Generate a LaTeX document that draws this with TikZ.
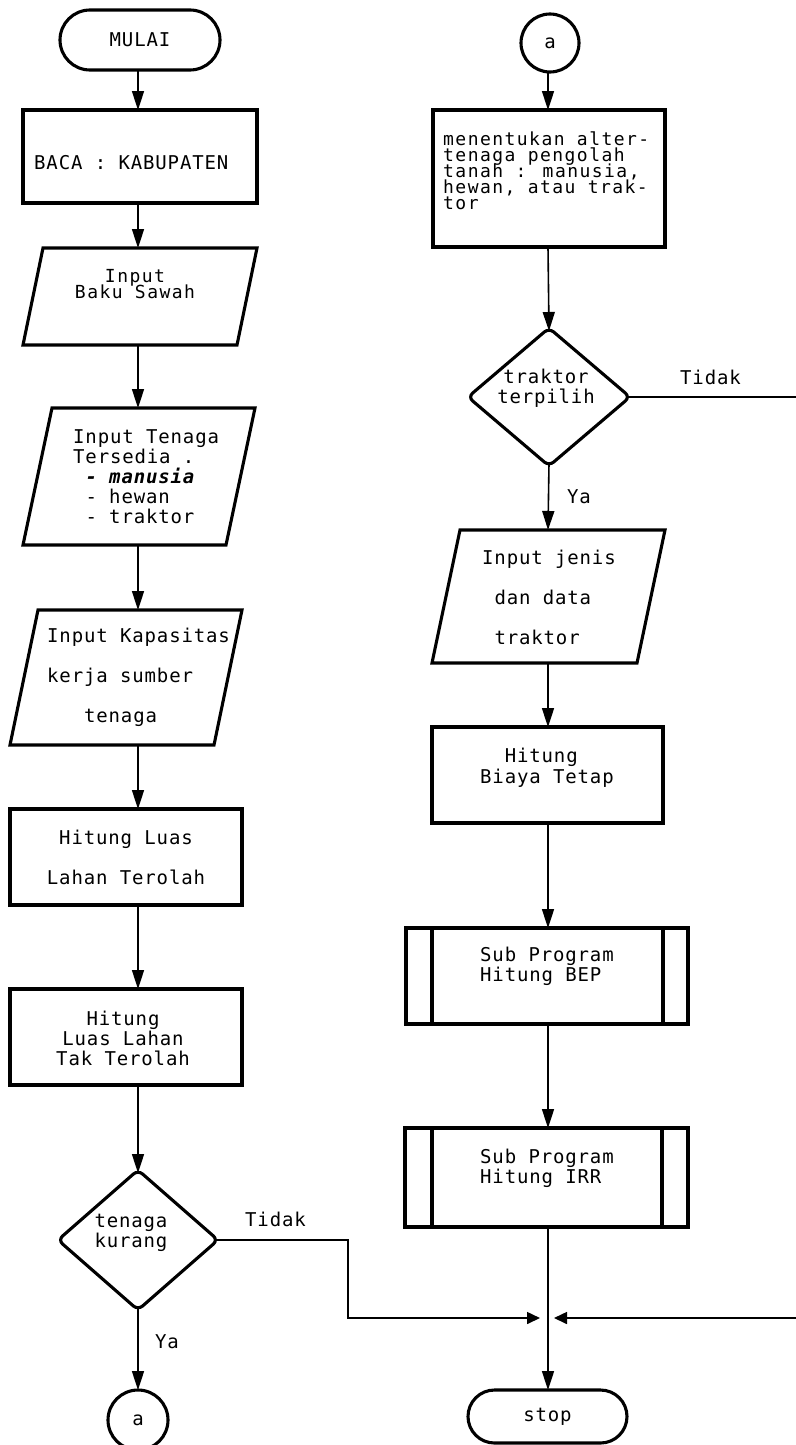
\documentclass[tikz,border=0pt]{standalone}
\usepackage{fontspec}
\newfontfamily\plotfont[LetterSpace=4.5]{DejaVu Sans Mono}
\newfontfamily\plotfontsmall[LetterSpace=8.1]{DejaVu Sans Mono}
\usetikzlibrary{arrows.meta,shapes.geometric}
\lineskiplimit=-100pt
\newcommand\plotsize[1]{\plotfont\fontsize{19pt}{#1pt}\selectfont}
\newcommand\plotsmall[1]{\plotfontsmall\fontsize{18pt}{#1pt}\selectfont}
\tikzset{
  outline/.style={draw, line width=3.1pt, inner sep=0pt, outer sep=0pt},
  ghost/.style={rectangle, inner sep=0pt, outer sep=0pt},
  txt/.style={inner sep=0pt, font=\plotsize{#1}},
  txt/.default=20,
  smalltxt/.style={inner sep=0pt, font=\plotsmall{#1}},
  flow/.style={line width=1.6pt},
  arr/.style={flow, -{Triangle[length=19pt,width=12pt]}},
  harr/.style={flow, -{Triangle[length=13pt,width=12pt]}},
}

\begin{document}
\begin{tikzpicture}[x=1pt,y=-1pt]
\useasboundingbox (0,0) rectangle (795,1445);

% column axes
\coordinate (colL) at (138,0);
\coordinate (colR) at (548,0);

% ---------------- left column ----------------
\node[outline, txt, rectangle, rounded corners=30pt, minimum width=160pt, minimum height=60pt] (mulai) at (140,40) {MULAI};

\node[outline, rectangle, minimum width=234pt, minimum height=93pt] (baca) at (140,156.5) {};
\node[txt, anchor=west] (tbaca) at (34,163) {BACA : KABUPATEN};

\node[ghost, minimum width=234pt, minimum height=97pt] (baku) at (140,296.5) {};
\draw[outline] ([xshift=20pt]baku.north west) -- (baku.north east) -- ([xshift=-20pt]baku.south east) -- (baku.south west) -- cycle;
\node[smalltxt=16, align=center] (tbaku) at (135,284) {Input\\Baku Sawah};

\node[ghost, minimum width=232pt, minimum height=137pt] (tenaga) at (139,476.5) {};
\draw[outline] ([xshift=29pt]tenaga.north west) -- (tenaga.north east) -- ([xshift=-29pt]tenaga.south east) -- (tenaga.south west) -- cycle;
\node[txt, align=left, anchor=west] (ttenaga) at (73,477) {Input Tenaga\\Tersedia .\\\hspace*{12.3pt}{\bfseries\itshape - manusia}\\\hspace*{12.3pt}- hewan\\\hspace*{12.3pt}- traktor};

\node[ghost, minimum width=232pt, minimum height=135pt] (kap) at (126,677.5) {};
\draw[outline] ([xshift=28pt]kap.north west) -- (kap.north east) -- ([xshift=-28pt]kap.south east) -- (kap.south west) -- cycle;
\node[txt=40, align=left, anchor=west] (tkap) at (47,677) {Input Kapasitas\\kerja sumber\\\hspace*{36.9pt}tenaga};

\node[outline, rectangle, minimum width=232pt, minimum height=96pt] (luas1) at (126,857) {};
\node[txt=40, align=center] (tluas1) at (126,857) {Hitung Luas\\Lahan Terolah};

\node[outline, rectangle, minimum width=232pt, minimum height=96pt] (luas2) at (126,1037) {};
\node[txt, align=center] (tluas2) at (123,1038) {Hitung\\Luas Lahan\\Tak Terolah};

\node[outline, diamond, rounded corners=6pt, minimum width=160pt, minimum height=140pt] (dia1) at (138,1240) {};
\node[txt=20, align=center] (tdia1) at (131,1233) {tenaga\\kurang};
\node[txt, anchor=west] (tidakL) at (245,1219) {Tidak};
\node[txt, anchor=west] (yaL) at (155,1342) {Ya};

\node[outline, txt, circle, minimum size=60pt] (aL) at (138,1420) {a};

% ---------------- right column ----------------
\node[outline, txt, circle, minimum size=58pt] (aR) at (550,43) {a};

\node[outline, rectangle, minimum width=232pt, minimum height=137pt] (alt) at (549,178.5) {};
\node[smalltxt=16, align=left, anchor=west] (talt) at (443,171) {menentukan alter-\\tenaga pengolah\\tanah : manusia,\\hewan, atau trak-\\tor};

\node[outline, diamond, rounded corners=6pt, minimum width=162pt, minimum height=138pt] (dia2) at (549,397) {};
\node[txt, align=center] (tdia2) at (546,388) {traktor\\terpilih};
\node[txt, anchor=west] (tidakR) at (680,377) {Tidak};
\node[txt, anchor=west] (yaR) at (567,497) {Ya};

\node[ghost, minimum width=233pt, minimum height=133pt] (jenis) at (548.5,596.5) {};
\draw[outline] ([xshift=28pt]jenis.north west) -- (jenis.north east) -- ([xshift=-28pt]jenis.south east) -- (jenis.south west) -- cycle;
\node[txt=40, align=left, anchor=west] (tjenis) at (482,597) {Input jenis\\\hspace*{12.3pt}dan data\\\hspace*{12.3pt}traktor};

\node[outline, rectangle, minimum width=231pt, minimum height=96pt] (biaya) at (547.5,775) {};
\node[txt=21, align=left, anchor=west] (tbiaya) at (480,767.5) {\hspace*{24.6pt}Hitung\\Biaya Tetap};

\node[outline, rectangle, minimum width=282pt, minimum height=96pt] (bep) at (547,976) {};
\draw[outline] ([xshift=26pt]bep.north west) -- ([xshift=26pt]bep.south west);
\draw[outline] ([xshift=-25pt]bep.north east) -- ([xshift=-25pt]bep.south east);
\node[txt, align=left, anchor=west] (tbep) at (480,966) {Sub Program\\Hitung BEP};

\node[outline, rectangle, minimum width=283pt, minimum height=99pt] (irr) at (546.5,1177.5) {};
\draw[outline] ([xshift=27pt]irr.north west) -- ([xshift=27pt]irr.south west);
\draw[outline] ([xshift=-26pt]irr.north east) -- ([xshift=-26pt]irr.south east);
\node[txt, align=left, anchor=west] (tirr) at (480,1168) {Sub Program\\Hitung IRR};

\node[outline, txt, rectangle, rounded corners=26.5pt, minimum width=159pt, minimum height=53pt] (stop) at (547.5,1416.5) {stop};

% junction points beside the main line
\coordinate (joinL) at (540,1318);
\coordinate (joinR) at (554,1318);
\coordinate (bendL) at (348,1318);
\coordinate (edgeTop) at (806,397);
\coordinate (edgeBot) at (806,1318);

% ---------------- connectors ----------------
\draw[arr] (mulai.south -| colL) -- (baca.north -| colL);
\draw[arr] (baca.south -| colL) -- (baku.north -| colL);
\draw[arr] (baku.south -| colL) -- (tenaga.north -| colL);
\draw[arr] (tenaga.south -| colL) -- (kap.north -| colL);
\draw[arr] (kap.south -| colL) -- (luas1.north -| colL);
\draw[arr] (luas1.south -| colL) -- (luas2.north -| colL);
\draw[arr] (luas2.south -| colL) -- ([yshift=-3pt]dia1.north);
\draw[arr] ([yshift=3pt]dia1.south) -- (aL.north);
\draw[harr] ([xshift=-3pt]dia1.east) -| (bendL) -- (joinL);

\draw[arr] (aR.south -| colR) -- (alt.north -| colR);
\draw[arr] (alt.south -| colR) -- ([yshift=-3pt]dia2.north);
\draw[arr] ([yshift=3pt]dia2.south) -- (jenis.north -| colR);
\draw[arr] (jenis.south -| colR) -- (biaya.north -| colR);
\draw[arr] (biaya.south -| colR) -- (bep.north -| colR);
\draw[arr] (bep.south -| colR) -- (irr.north -| colR);
\draw[arr] (irr.south -| colR) -- (stop.north -| colR);
\draw[harr] ([xshift=-3pt]dia2.east) -- (edgeTop) -- (edgeBot) -- (joinR);
\end{tikzpicture}
\end{document}
